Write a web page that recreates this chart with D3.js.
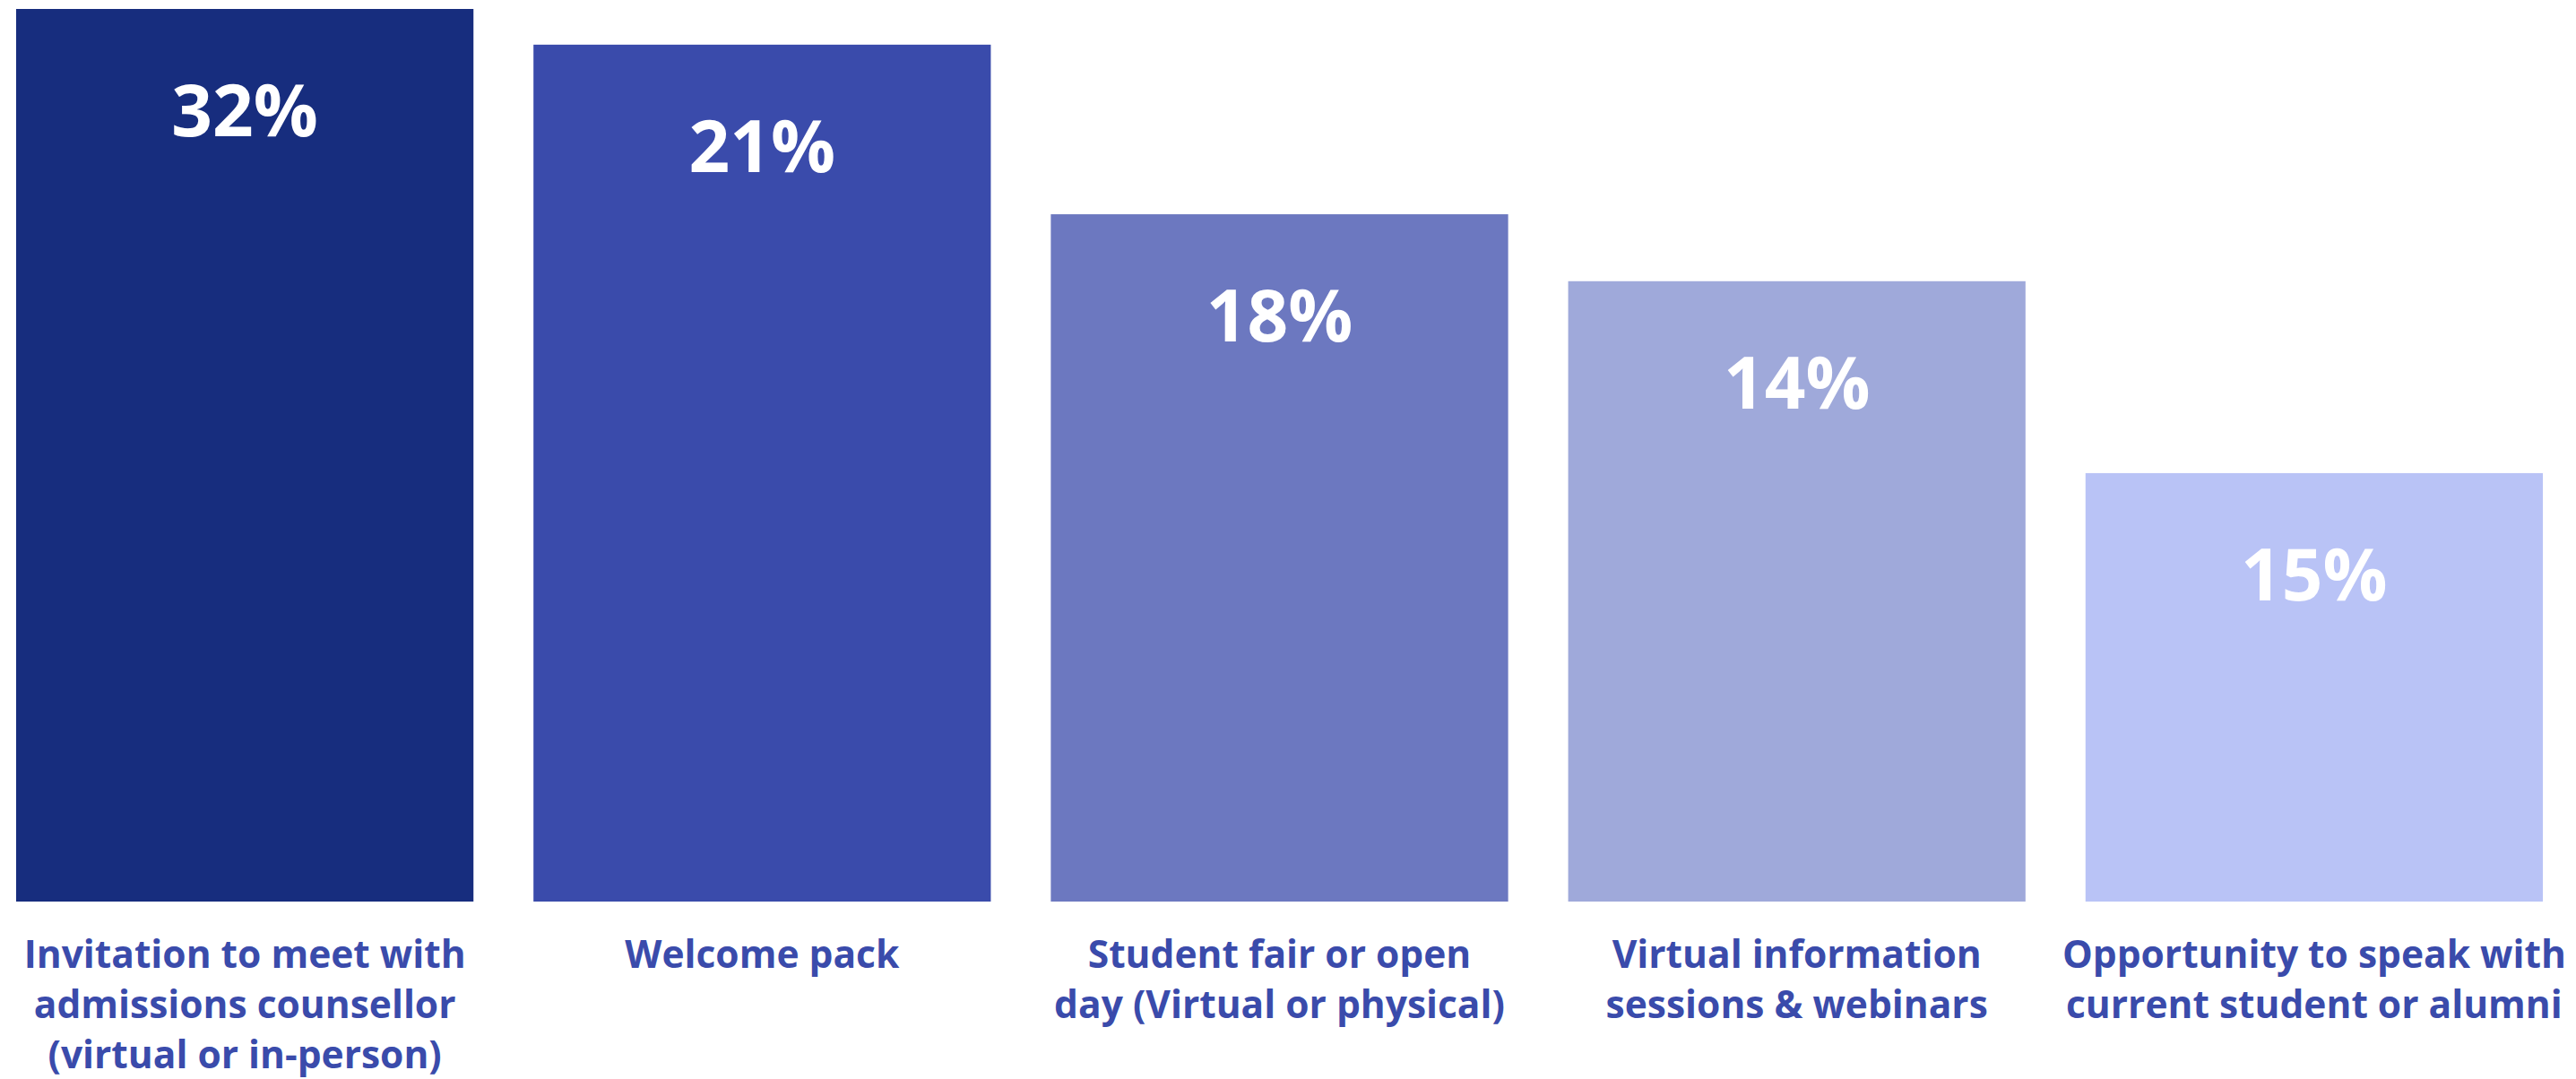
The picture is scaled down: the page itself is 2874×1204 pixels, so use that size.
<!DOCTYPE html>
<html>
<head>
<meta charset="utf-8">
<script src="https://cdn.jsdelivr.net/npm/d3@7"></script>
<style>
  html, body { margin: 0; padding: 0; background: #ffffff; }
  svg { display: block; }
  text { font-family: "Open Sans", "Noto Sans", sans-serif; font-weight: 700; }
</style>
</head>
<body>
<script>
// Categories (each label split into its printed lines)
const categories = [
  "Invitation to meet with|admissions counsellor|(virtual or in-person)",
  "Welcome pack",
  "Student fair or open|day (Virtual or physical)",
  "Virtual information|sessions & webinars",
  "Opportunity to speak with|current student or alumni"
];
// Printed value labels
const valueLabels = [32, 21, 18, 14, 15];
// Bar lengths as drawn in the picture (relative, tallest = 100)
const barLengths = [100, 96, 77, 69.5, 48];
const barColors = ["#172d7e", "#3a4bab", "#6c78c0", "#9fa9da", "#b9c3f6"];

const W = 2874, H = 1204;
const svg = d3.select("body").append("svg").attr("width", W).attr("height", H);

const x = d3.scaleBand()
  .domain(categories)
  .range([18, 2837])
  .paddingInner(0.116)
  .paddingOuter(0);

const y = d3.scaleLinear()
  .domain([0, 100])
  .range([1006, 10]);

const data = categories.map((c, i) => ({ cat: c, value: valueLabels[i], len: barLengths[i], color: barColors[i] }));

svg.selectAll("rect.bar")
  .data(data)
  .join("rect")
  .attr("class", "bar")
  .attr("x", d => x(d.cat))
  .attr("y", d => y(d.len))
  .attr("width", x.bandwidth())
  .attr("height", d => y(0) - y(d.len))
  .attr("fill", d => d.color);

svg.selectAll("text.val")
  .data(data)
  .join("text")
  .attr("class", "val")
  .attr("x", d => x(d.cat) + x.bandwidth() / 2)
  .attr("y", d => y(d.len) + 142)
  .attr("text-anchor", "middle")
  .attr("fill", "#ffffff")
  .attr("font-size", 80)
  .text(d => d.value + "%");

// category axis labels
const labelG = svg.selectAll("g.lbl")
  .data(data)
  .join("g")
  .attr("class", "lbl")
  .attr("transform", d => `translate(${x(d.cat) + x.bandwidth() / 2},1080)`);

labelG.selectAll("text")
  .data(d => d.cat.split("|"))
  .join("text")
  .attr("x", 0)
  .attr("y", (d, i) => i * 56)
  .attr("text-anchor", "middle")
  .attr("fill", "#3a4bab")
  .attr("font-size", 42.5)
  .text(d => d);
</script>
</body>
</html>
